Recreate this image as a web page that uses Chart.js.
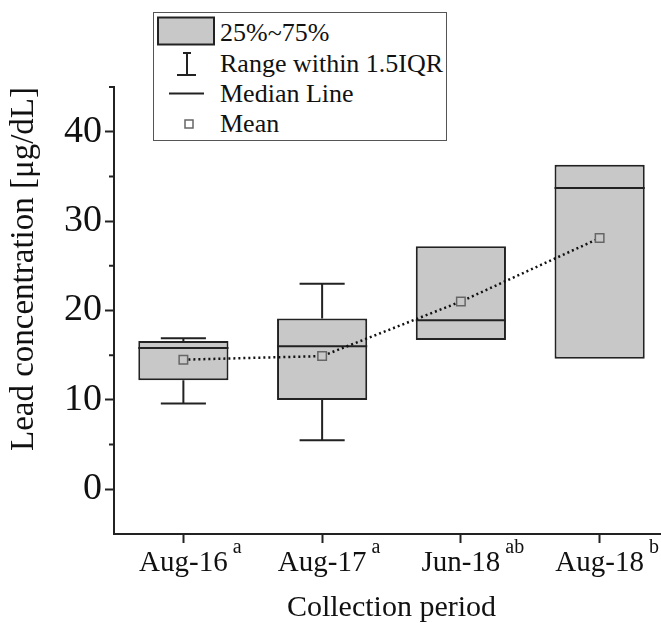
<!DOCTYPE html>
<html>
<head>
<meta charset="utf-8">
<script src="https://cdn.jsdelivr.net/npm/chart.js@4"></script>
<style>
  body { margin: 0; overflow: hidden; background: #fff; }
  #wrap { position: relative; width: 680px; height: 623px; }
  #legend {
    position: absolute; left: 153px; top: 12px; width: 292px; height: 127px;
    border: 1.5px solid #555; background: #fff;
    font-family: "Liberation Serif", "Times New Roman", serif; font-size: 26px; color: #111;
  }
  #legend .row { position: absolute; left: 66px; height: 30px; line-height: 30px; white-space: nowrap; }
  #legend svg { position: absolute; left: 0; top: 0; }
</style>
</head>
<body>
<div id="wrap">
  <canvas id="chart"></canvas>
  <div id="legend">
    <svg width="292" height="127">
      <!-- box -->
      <rect x="4" y="4.5" width="56" height="27" fill="#c8c8c8" stroke="#222" stroke-width="2"/>
      <!-- whisker -->
      <line x1="33" y1="40" x2="33" y2="62" stroke="#222" stroke-width="2"/>
      <line x1="29" y1="40" x2="37" y2="40" stroke="#222" stroke-width="2"/>
      <line x1="23" y1="62" x2="42" y2="62" stroke="#222" stroke-width="2"/>
      <!-- median -->
      <line x1="15" y1="80.5" x2="50" y2="80.5" stroke="#222" stroke-width="2"/>
      <!-- mean -->
      <rect x="31" y="107" width="8" height="8" fill="#fff" stroke="#666" stroke-width="1.5"/>
    </svg>
    <div class="row" style="top:5px">25%~75%</div>
    <div class="row" style="top:36px">Range within 1.5IQR</div>
    <div class="row" style="top:66px">Median Line</div>
    <div class="row" style="top:96px">Mean</div>
  </div>
</div>
<script>
// 採取時期と有意差記号
const categories = ["Aug-16", "Aug-17", "Jun-18", "Aug-18"];
const letters = ["a", "a", "ab", "b"];

// 箱ひげ図の値 (µg/dL)
const q1 = [12.2, 10.0, 16.7, 14.6];
const q3 = [16.6, 19.1, 27.2, 36.3];
const median = [15.8, 16.0, 18.9, 33.7];
const whiskerLow = [9.6, 5.5, 16.7, 14.6];
const whiskerHigh = [16.9, 23.0, 27.2, 36.3];
const means = [14.5, 14.9, 21.0, 28.1];

const ink = "#222";
const serif = "'Liberation Serif', 'Times New Roman', serif";

// ひげ・中央値・副目盛り・上付き文字
const boxExtras = {
  id: "boxExtras",
  afterDatasetDraw(chart, args) {
    if (args.meta.type !== "bar") return;
    const ctx = chart.ctx;
    const y = chart.scales.y;
    ctx.save();
    ctx.strokeStyle = ink;
    ctx.lineWidth = 2;
    args.meta.data.forEach((bar, i) => {
      const half = bar.width / 2;
      const cap = bar.width / 4;
      const yLo = y.getPixelForValue(whiskerLow[i]);
      const yHi = y.getPixelForValue(whiskerHigh[i]);
      const yQ1 = y.getPixelForValue(q1[i]);
      const yQ3 = y.getPixelForValue(q3[i]);
      const yMed = y.getPixelForValue(median[i]);
      ctx.beginPath();
      if (whiskerLow[i] < q1[i]) {
        ctx.moveTo(bar.x, yQ1); ctx.lineTo(bar.x, yLo);
        ctx.moveTo(bar.x - cap, yLo); ctx.lineTo(bar.x + cap, yLo);
      }
      if (whiskerHigh[i] > q3[i]) {
        ctx.moveTo(bar.x, yQ3); ctx.lineTo(bar.x, yHi);
        ctx.moveTo(bar.x - cap, yHi); ctx.lineTo(bar.x + cap, yHi);
      }
      ctx.moveTo(bar.x - half, yMed); ctx.lineTo(bar.x + half, yMed);
      ctx.stroke();
    });
    ctx.restore();
  },
  afterDraw(chart) {
    const ctx = chart.ctx;
    const y = chart.scales.y;
    const x = chart.scales.x;
    ctx.save();
    ctx.strokeStyle = ink;
    ctx.lineWidth = 2;
    ctx.beginPath();
    y.ticks.forEach(t => {
      if (t.value % 10 === 0 || t.value < 0) return;
      const py = y.getPixelForValue(t.value);
      ctx.moveTo(y.right - 5, py); ctx.lineTo(y.right, py);
    });
    ctx.stroke();

    ctx.fillStyle = "#111";
    categories.forEach((c, i) => {
      ctx.font = "29px " + serif;
      const w = ctx.measureText(c).width;
      ctx.font = "20px " + serif;
      ctx.textBaseline = "alphabetic";
      ctx.fillText(letters[i], x.getPixelForTick(i) + w / 2 + 5, 553);
    });
    ctx.restore();
  }
};

new Chart(document.getElementById("chart"), {
  data: {
    labels: categories,
    datasets: [
      {
        type: "line",
        label: "Mean",
        data: means,
        order: 0,
        borderColor: "#111",
        borderWidth: 2.5,
        borderDash: [2, 3],
        fill: false,
        pointStyle: "rect",
        pointRadius: 6,
        pointBorderColor: "#666",
        pointBorderWidth: 1.5,
        pointBackgroundColor: "#c8c8c8"
      },
      {
        type: "bar",
        label: "25%~75%",
        data: q1.map((v, i) => [v, q3[i]]),
        order: 1,
        backgroundColor: "#c8c8c8",
        borderColor: ink,
        borderWidth: 2,
        borderSkipped: false,
        categoryPercentage: 1,
        barPercentage: 0.65
      }
    ]
  },
  options: {
    responsive: true,
    maintainAspectRatio: false,
    animation: false,
    layout: { padding: { top: 87, right: 11, left: 0, bottom: 0 } },
    plugins: { legend: { display: false }, tooltip: { enabled: false } },
    scales: {
      x: {
        offset: true,
        afterFit: s => { s.height = 89; },
        grid: { offset: false, drawOnChartArea: false, tickLength: 9, tickWidth: 2, tickColor: ink },
        border: { color: ink, width: 2 },
        ticks: { color: "#111", padding: 3, font: { family: serif, size: 29 } },
        title: {
          display: true, text: "Collection period", color: "#111",
          padding: { top: 0, bottom: 0 },
          font: { family: serif, size: 30, lineHeight: 1 }
        }
      },
      y: {
        min: -5,
        max: 45,
        afterFit: s => { s.width = 114; },
        grid: {
          drawOnChartArea: false, tickLength: 9, tickWidth: 2,
          tickColor: c => (c.tick && c.tick.value % 10 === 0 ? ink : "rgba(0,0,0,0)")
        },
        border: { color: ink, width: 2 },
        ticks: {
          stepSize: 5,
          autoSkip: false,
          color: "#111",
          padding: 3,
          font: { family: serif, size: 38 },
          callback: v => (v % 10 === 0 ? String(v) : "")
        },
        title: {
          display: true, text: "Lead concentration [μg/dL]", color: "#111",
          align: "end",
          padding: { top: 5, bottom: 0 },
          font: { family: serif, size: 33 }
        }
      }
    }
  },
  plugins: [boxExtras]
});
</script>
</body>
</html>
